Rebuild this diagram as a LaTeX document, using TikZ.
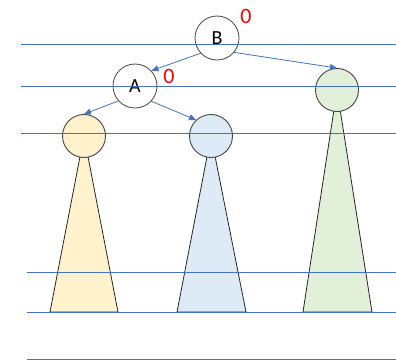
\documentclass[tikz,border=0pt]{standalone}
\usepackage{fontspec}
\setmainfont{Carlito}
\usepackage{xcolor}
\usetikzlibrary{arrows.meta}
\definecolor{levelblue}{RGB}{68,114,196}
\definecolor{outline}{RGB}{70,70,70}
\definecolor{treeyellow}{RGB}{255,242,204}
\definecolor{treeblue}{RGB}{222,235,247}
\definecolor{treegreen}{RGB}{226,240,217}
\tikzstyle{keynode}=[circle, draw=outline, fill=white, line width=0.8pt,
  minimum size=44pt, inner sep=0pt, font=\fontsize{20}{20}\selectfont]
\tikzstyle{subroot}=[circle, draw=outline, line width=0.9pt,
  minimum size=43pt, inner sep=0pt]
\tikzstyle{subtree}=[draw=black!85, line width=0.8pt, line join=round]
\tikzstyle{bal}=[text=red, font=\fontsize{22}{22}\selectfont, inner sep=0pt]
\tikzstyle{level}=[levelblue, line width=0.9pt]
\tikzstyle{edge}=[-{Triangle[length=7pt,width=6pt]}, levelblue, line width=0.8pt]

\begin{document}
\begin{tikzpicture}[x=1pt,y=-1pt]
        \useasboundingbox (0,0) rectangle (396,361);
        % subtrees behind their roots
        \draw[subtree, fill=treeyellow] (84,136) -- (50,312) -- (118,312) -- cycle;
        \draw[subtree, fill=treeblue] (211,136) -- (177,312) -- (246,312) -- cycle;
        \draw[subtree, fill=treegreen] (337,90) -- (303,312) -- (372,312) -- cycle;
        \node[subroot, fill=treeyellow] (T1) at (84,136) {};
        \node[subroot, fill=treeblue] (T2) at (211,136) {};
        \node[subroot, fill=treegreen] (T3) at (337,90) {};
        \node[keynode] (B) at (217,38) {B};
        \node[keynode] (A) at (135,86) {A};
        \foreach \y/\x in {44/21, 86/21, 133/21, 272/27, 312/27, 359/27}
          \draw[level] (\x,\y) -- (396,\y);
        \node[bal] (bB) at (246,16) {0};
        \node[bal] (bA) at (169,76) {0};
        \draw[edge] (B.223) -- (A.43);
        \draw[edge] (B.-40) -- (T3.north);
        \draw[edge] (A.222) -- (T1.north);
        \draw[edge] (A.-43) -- (T2.133);
      \end{tikzpicture}
\end{document}
